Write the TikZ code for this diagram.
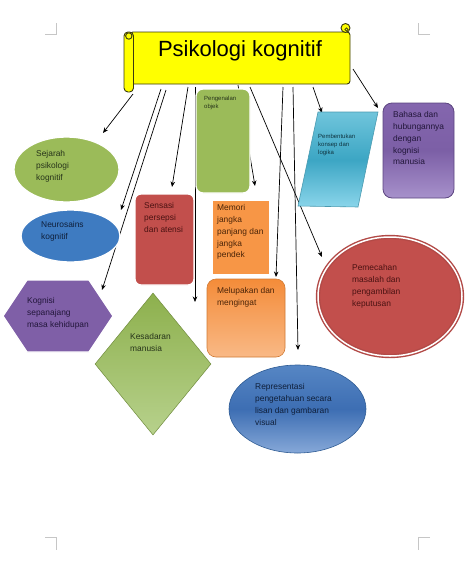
\documentclass[tikz,border=0pt]{standalone}
\usepackage{fontspec}
\setmainfont{Liberation Sans}
\usetikzlibrary{shapes.geometric,arrows.meta}
\definecolor{scrollline}{HTML}{3A3A10}
\definecolor{ylw}{HTML}{FFFF00}
\definecolor{grn}{HTML}{9BBB59}
\definecolor{grnT}{HTML}{8DB04D}
\definecolor{grnB}{HTML}{B7D18C}
\definecolor{blu}{HTML}{3E7BC1}
\definecolor{bluT}{HTML}{5686C4}
\definecolor{bluM}{HTML}{3D6EB3}
\definecolor{bluB}{HTML}{86A8D8}
\definecolor{bluD}{HTML}{2F5C94}
\definecolor{pur}{HTML}{7F5FA7}
\definecolor{purT}{HTML}{8466AE}
\definecolor{purM}{HTML}{7C5FA6}
\definecolor{purB}{HTML}{A791CB}
\definecolor{purD}{HTML}{5C4580}
\definecolor{rd}{HTML}{C24F4C}
\definecolor{org}{HTML}{F79646}
\definecolor{orgT}{HTML}{F48C39}
\definecolor{orgB}{HTML}{F9B986}
\definecolor{orgD}{HTML}{D07A35}
\definecolor{cyT}{HTML}{70C5DC}
\definecolor{cyM}{HTML}{3CA6C4}
\definecolor{cyB}{HTML}{8AD5EA}
\definecolor{cyD}{HTML}{4A9AB0}
\definecolor{tgrn}{HTML}{26331A}
\definecolor{tblu}{HTML}{0F1F3A}
\definecolor{tpur}{HTML}{22163A}
\definecolor{tred}{HTML}{4A1212}
\definecolor{torg}{HTML}{4A2408}
\definecolor{tcy}{HTML}{0F3440}
\begin{document}
\begin{tikzpicture}[x=1pt,y=-1pt,
  arr/.style={draw=black, line width=0.7pt, -{Stealth[length=5.5pt,width=4.5pt]}},
  txt/.style={anchor=north west, inner sep=0pt, align=left, font=\fontsize{8.4}{11.8}\selectfont},
  tinytxt/.style={anchor=north west, inner sep=0pt, align=left, font=\fontsize{6}{8.2}\selectfont},
  scroll/.style={draw=scrollline, fill=ylw, line width=0.9pt},
  cropmark/.style={draw=gray!45, line width=0.6pt},
  glow/.style={draw=white, line width=1.3pt},
  shp/.style={inner sep=0pt}
]
\fill[white] (0,0) rectangle (474,581);
\useasboundingbox (0,0) rectangle (474,581);

% crop marks
\draw[cropmark] (45,34) -- (56,34) -- (56,23);
\draw[cropmark] (430,34) -- (418,34) -- (418,23);
\draw[cropmark] (45,537) -- (56,537) -- (56,550);
\draw[cropmark] (430,537) -- (418,537) -- (418,550);

% connector end points
\coordinate (s1) at (133,94);  \coordinate (e1) at (103,133);
\coordinate (s2) at (161,89);  \coordinate (e2) at (121,210);
\coordinate (s3) at (166,90);  \coordinate (e3) at (102,290);
\coordinate (s4) at (188,87);  \coordinate (e4) at (172,187);
\coordinate (s5) at (195,87);  \coordinate (e5) at (195,302);
\coordinate (s6) at (238,85);  \coordinate (e6) at (255,186);
\coordinate (s7) at (250,87);  \coordinate (e7) at (322,257);
\coordinate (s8) at (283,87);  \coordinate (e8) at (276,277);
\coordinate (s9) at (293,87);  \coordinate (e9) at (298,350);
\coordinate (s10) at (313,87); \coordinate (e10) at (322,113);
\coordinate (s11) at (353,69); \coordinate (e11) at (378,108);

\foreach \i in {1,...,11} {\draw[arr] (s\i) -- (e\i);}

% shapes
\node[shp, ellipse, minimum width=105, minimum height=65, fill=grn, glow] (sej) at (66.5,169.5) {};
\node[shp, ellipse, minimum width=99, minimum height=52, fill=blu, glow] (neu) at (70.5,236) {};
\path[fill=pur, glow] (3,316) -- (27,280) -- (89,280) -- (113,316) -- (89,352) -- (27,352) -- cycle;
\coordinate (hex) at (58,316);
\node[shp, rectangle, rounded corners=6, minimum width=59, minimum height=91, fill=rd, glow] (sen) at (164.5,239.5) {};
\node[shp, diamond, minimum width=116, minimum height=142, top color=grnT, bottom color=grnB, draw=grnT!80!black, line width=0.5pt] (kes) at (153,364) {};
\node[shp, rectangle, rounded corners=7, minimum width=54, minimum height=104, fill=grn, glow] (pen) at (223,141) {};
\node[shp, rectangle, minimum width=58, minimum height=75, fill=org, glow] (mem) at (241,237.5) {};
\node[shp, rectangle, rounded corners=9, minimum width=78, minimum height=78, top color=orgT, bottom color=orgB, draw=orgD, line width=0.6pt] (mel) at (246,318) {};
\path[top color=cyT, bottom color=cyB, middle color=cyM, draw=cyD, line width=0.6pt] (298,206) -- (318,112) -- (378,112) -- (358,207) -- cycle;
\coordinate (pbt) at (338,160);
\node[shp, rectangle, rounded corners=9, minimum width=71, minimum height=95, top color=purT, bottom color=purB, middle color=purM, draw=purD, line width=0.8pt] (bah) at (418.5,150.5) {};
\node[shp, ellipse, minimum width=144, minimum height=119, fill=rd, draw=rd!92!black, double=white, double distance=1.5pt, line width=1.4pt] (pem) at (390,296.5) {};
\node[shp, ellipse, minimum width=137, minimum height=88, top color=bluT, bottom color=bluB, middle color=bluM, draw=bluD, line width=0.6pt] (rep) at (297.5,409) {};

% banner (scroll)
\node[scroll, shp, rounded corners=3, minimum width=220, minimum height=52] (ban) at (240,58) {};
\draw[scroll] (345.5,28) circle[radius=4.5];
\draw[draw=scrollline, line width=0.6pt] (346.5,29.5) circle[radius=1.6];
\draw[scroll, rounded corners=4] (124,32) rectangle (133.5,92);
\draw[scroll] (128.8,36) circle[radius=3.2];
\node[font=\fontsize{22}{26}\selectfont, anchor=base, inner sep=0pt, text=black] (title) at (240,56) {Psikologi kognitif};

% texts
\node[txt, text=tgrn] (tsej) at (36,150.5) {Sejarah\\psikologi\\kognitif};
\node[txt, text=tblu] (tneu) at (41,221.5) {Neurosains\\kognitif};
\node[txt, text=tpur] (thex) at (27,297.5) {Kognisi\\sepanajang\\masa kehidupan};
\node[txt, text=tred] (tsen) at (144,202.5) {Sensasi\\persepsi\\dan atensi};
\node[txt, text=tgrn] (tkes) at (130,333.5) {Kesadaran\\manusia};
\node[tinytxt, text=tgrn] (tpen) at (204,96) {Pengenalan\\objek};
\node[txt, text=torg] (tmem) at (217,204.5) {Memori\\jangka\\panjang dan\\jangka\\pendek};
\node[txt, text=torg] (tmel) at (217,287.5) {Melupakan dan\\mengingat};
\node[tinytxt, text=tcy] (tpbt) at (318,134) {Pembentukan\\konsep dan\\logika};
\node[txt, text=tpur] (tbah) at (393,111.5) {Bahasa dan\\hubungannya\\dengan\\kognisi\\manusia};
\node[txt, text=tred] (tpem) at (352,264.5) {Pemecahan\\masalah dan\\pengambilan\\keputusan};
\node[txt, text=tblu] (trep) at (255,383.5) {Representasi\\pengetahuan secara\\lisan dan gambaran\\visual};
\end{tikzpicture}
\end{document}
